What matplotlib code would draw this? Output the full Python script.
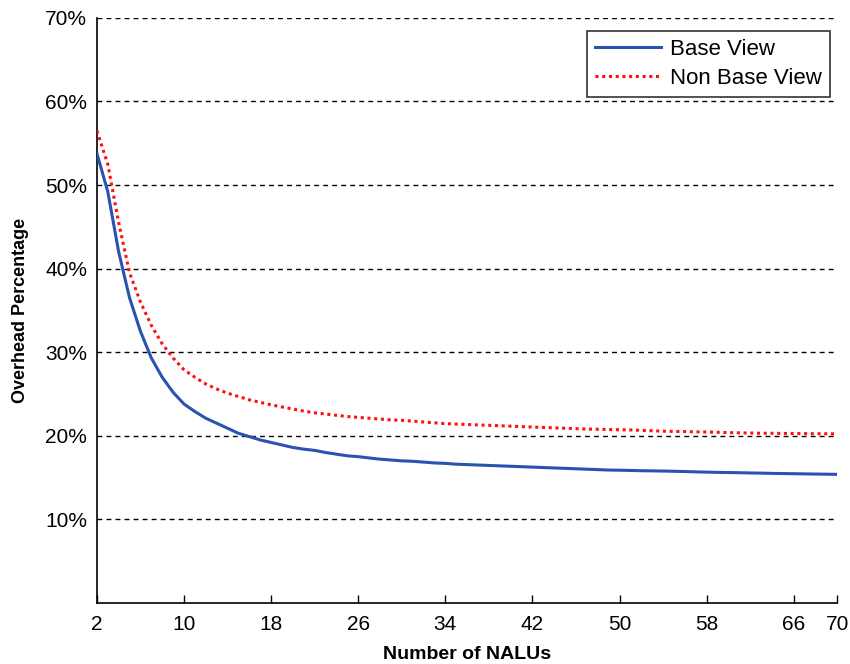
import matplotlib
matplotlib.use("Agg")
import matplotlib.pyplot as plt
from matplotlib.ticker import FuncFormatter

plt.rcParams['font.family'] = ['Liberation Sans', 'DejaVu Sans']

nalus = list(range(2, 71))
base_view = [53.8, 49.2, 42.0, 36.5, 32.5, 29.3, 27.0, 25.2, 23.8, 22.9,
             22.1, 21.5, 20.9, 20.3, 19.9, 19.5, 19.2, 18.9, 18.6, 18.4,
             18.25, 18.0, 17.8, 17.6, 17.5, 17.35, 17.2, 17.1, 17.0, 16.95,
             16.85, 16.75, 16.7, 16.6, 16.55, 16.5, 16.45, 16.4, 16.35, 16.3,
             16.25, 16.2, 16.15, 16.1, 16.05, 16.0, 15.95, 15.9, 15.88, 15.85,
             15.82, 15.8, 15.78, 15.75, 15.72, 15.68, 15.65, 15.62, 15.6, 15.58,
             15.55, 15.53, 15.5, 15.48, 15.46, 15.44, 15.42, 15.4, 15.38]
non_base_view = [56.5, 52.5, 45.5, 39.5, 36.0, 33.2, 31.0, 29.3, 27.9, 27.0,
                 26.2, 25.6, 25.1, 24.7, 24.3, 24.0, 23.7, 23.45, 23.2, 22.95,
                 22.75, 22.6, 22.45, 22.3, 22.2, 22.1, 22.0, 21.9, 21.85, 21.75,
                 21.65, 21.55, 21.45, 21.4, 21.35, 21.3, 21.25, 21.2, 21.15, 21.1,
                 21.05, 21.0, 20.95, 20.9, 20.85, 20.8, 20.78, 20.75, 20.72, 20.7,
                 20.65, 20.6, 20.55, 20.52, 20.5, 20.47, 20.45, 20.42, 20.38, 20.35,
                 20.33, 20.3, 20.3, 20.28, 20.27, 20.26, 20.25, 20.24, 20.23]
x_ticks = [2, 10, 18, 26, 34, 42, 50, 58, 66, 70]
y_ticks = [10, 20, 30, 40, 50, 60, 70]

fig = plt.figure(figsize=(8.5, 6.64), dpi=100)
ax = fig.add_axes([0.114, 0.092, 0.871, 0.881])

for y in y_ticks:
    ax.axhline(y, color='black', linestyle=(0, (3.5, 3)), linewidth=1.0, zorder=1)

ax.plot(nalus, base_view, color='#2a52b0', linewidth=2.2, label='Base View', zorder=3)
ax.plot(nalus, non_base_view, color='#ff1010', linewidth=2.2, linestyle=(0, (1, 1.2)),
        label='Non Base View', zorder=3)

ax.set_xlim(2, 70)
ax.set_ylim(0, 70)
ax.set_xticks(x_ticks)
ax.set_yticks(y_ticks)
ax.yaxis.set_major_formatter(FuncFormatter(lambda v, p: f"{int(v)}%"))

ax.spines['top'].set_visible(False)
ax.spines['right'].set_visible(False)
ax.spines['left'].set_linewidth(1.2)
ax.spines['bottom'].set_linewidth(1.2)
ax.tick_params(axis='x', direction='in', length=6, width=1, labelsize=15, pad=9)
ax.tick_params(axis='y', direction='in', length=0, labelsize=15, pad=7)

ax.set_xlabel('Number of NALUs', fontsize=14, fontweight='bold', labelpad=8)
ax.set_ylabel('Overhead Percentage', fontsize=13, fontweight='bold', labelpad=12)

leg = ax.legend(loc='upper right', bbox_to_anchor=(0.990, 0.977), fontsize=16,
                frameon=True, fancybox=False, edgecolor='black', handlelength=3.0,
                handletextpad=0.4, borderpad=0.35, labelspacing=0.35, borderaxespad=0)
leg.get_frame().set_linewidth(1.2)

fig.savefig('out.png', dpi=100)
